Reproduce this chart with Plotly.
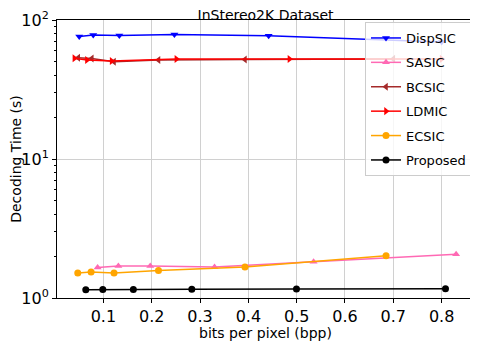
import plotly.graph_objects as go

# bpp / decoding time (s)
dispsic_bpp = [0.050, 0.079, 0.133, 0.247, 0.442, 0.800]
dispsic_time = [76.0, 78.0, 77.5, 78.5, 77.0, 69.5]

sasic_bpp = [0.088, 0.131, 0.197, 0.330, 0.535, 0.830]
sasic_time = [1.66, 1.70, 1.70, 1.67, 1.82, 2.06]

bcsic_bpp = [0.048, 0.076, 0.122, 0.214, 0.393, 0.700]
bcsic_time = [53.5, 52.8, 50.1, 51.5, 52.0, 52.5]

ldmic_bpp = [0.040, 0.066, 0.117, 0.251, 0.485, 0.800]
ldmic_time = [53.0, 51.5, 50.7, 52.4, 52.4, 52.5]

ecsic_bpp = [0.047, 0.0745, 0.122, 0.214, 0.393, 0.685]
ecsic_time = [1.51, 1.54, 1.51, 1.58, 1.67, 2.01]

proposed_bpp = [0.0636, 0.0988, 0.162, 0.283, 0.4996, 0.808]
proposed_time = [1.147, 1.150, 1.152, 1.155, 1.160, 1.166]

x_ticks = [0.1, 0.2, 0.3, 0.4, 0.5, 0.6, 0.7, 0.8]
y_ticks = [1, 10, 100]
y_ticktext = ["10<sup>0</sup>", "10<sup>1</sup>", "10<sup>2</sup>"]
y_minor = [m * d for d in (1, 10) for m in range(2, 10)]

series = [
    ("DispSIC", dispsic_bpp, dispsic_time, "blue", "triangle-down"),
    ("SASIC", sasic_bpp, sasic_time, "hotpink", "triangle-up"),
    ("BCSIC", bcsic_bpp, bcsic_time, "brown", "triangle-left"),
    ("LDMIC", ldmic_bpp, ldmic_time, "red", "triangle-right"),
    ("ECSIC", ecsic_bpp, ecsic_time, "orange", "circle"),
    ("Proposed", proposed_bpp, proposed_time, "black", "circle"),
]

fig = go.Figure()
for name, xs, ys, color, symbol in series:
    fig.add_trace(
        go.Scatter(
            x=xs,
            y=ys,
            name=name,
            legendgroup=name,
            mode="lines+markers",
            line=dict(color=color, width=1.5),
            marker=dict(color=color, symbol=symbol, size=7),
        )
    )

# the page body adds an 8px margin, so the figure is 8px smaller and
# all offsets are measured from (8, 8)
OFF = 8
W, H = 478 - OFF, 341 - OFF
L, R, T, B = 57 - OFF, 4, 20 - OFF, 43

fig.update_layout(
    width=W,
    height=H,
    margin=dict(l=L, r=R, t=T, b=B),
    paper_bgcolor="white",
    plot_bgcolor="white",
    font=dict(family="DejaVu Sans", size=14, color="black"),
    title=dict(
        text="InStereo2K Dataset",
        x=(L + W - R) / 2 / W,
        xanchor="center",
        y=1 - 7 / H,
        yanchor="middle",
        font=dict(size=14),
    ),
    legend=dict(
        x=(472 - 57) / 417,
        y=(298 - 22) / 278,
        xanchor="right",
        yanchor="top",
        bgcolor="rgba(255,255,255,0.8)",
        bordercolor="#cccccc",
        borderwidth=1,
        font=dict(size=13),
        itemwidth=30,
        tracegroupgap=4.5,
    ),
    showlegend=True,
)

fig.update_xaxes(
    range=[0.004, 0.867],
    tickvals=x_ticks,
    ticks="outside",
    ticklen=4,
    tickcolor="black",
    tickfont=dict(size=16),
    showgrid=True,
    gridcolor="#d0d0d0",
    showline=True,
    linecolor="black",
    linewidth=1,
    mirror=True,
    zeroline=False,
    automargin=False,
    title=dict(text="bits per pixel (bpp)", font=dict(size=14), standoff=0),
)

fig.update_yaxes(
    type="log",
    range=[0, 2],
    tickvals=y_ticks,
    ticktext=y_ticktext,
    ticks="outside",
    ticklen=4,
    tickcolor="black",
    tickfont=dict(size=16),
    showgrid=True,
    gridcolor="#d0d0d0",
    showline=True,
    linecolor="black",
    linewidth=1,
    mirror=True,
    zeroline=False,
    automargin=False,
    minor=dict(tickvals=y_minor, ticks="outside", ticklen=2, tickcolor="black", showgrid=False),
    title=dict(text="Decoding Time (s)", font=dict(size=14), standoff=9),
)

fig.write_html("out.html")
